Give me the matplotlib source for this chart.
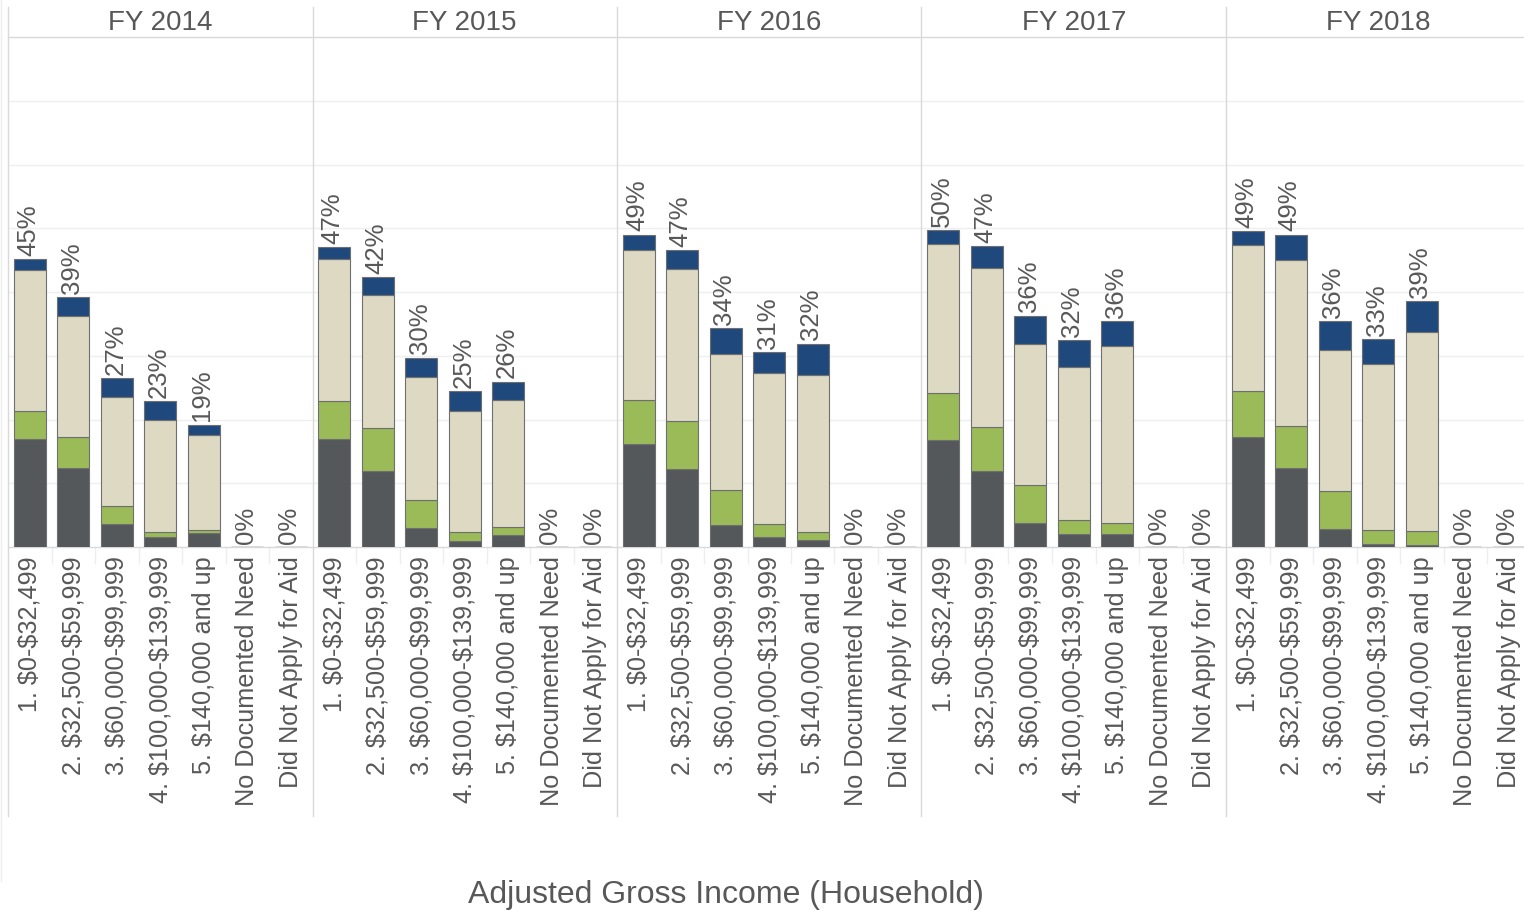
import numpy as np
import matplotlib
matplotlib.use("Agg")
import matplotlib.pyplot as plt
from matplotlib.lines import Line2D

plt.rcParams['font.family'] = ['Liberation Sans', 'DejaVu Sans']
plt.rcParams['text.parse_math'] = False  # keep the "$" signs literal

# -----------------------
# Data (percent of students)
# -----------------------
years = ['FY 2014', 'FY 2015', 'FY 2016', 'FY 2017', 'FY 2018']
categories = ['1. $0-$32,499', '2. $32,500-$59,999', '3. $60,000-$99,999',
              '4. $100,000-$139,999', '5. $140,000 and up',
              'No Documented Need', 'Did Not Apply for Aid']

# one row per fiscal year, one value per income category (bottom -> top)
dark_part = [[17.0, 12.4, 3.6, 1.5, 2.2, 0, 0],
             [17.0, 12.0, 3.0, 1.0, 1.9, 0, 0],
             [16.2, 12.3, 3.5, 1.6, 1.15, 0, 0],
             [16.8, 12.0, 3.8, 2.0, 2.1, 0, 0],
             [17.3, 12.4, 2.9, 0.5, 0.3, 0, 0]]
green_part = [[4.4, 4.9, 2.8, 0.8, 0.4, 0, 0],
              [5.9, 6.6, 4.4, 1.3, 1.25, 0, 0],
              [6.9, 7.5, 5.5, 2.0, 1.25, 0, 0],
              [7.4, 6.85, 6.0, 2.3, 1.6, 0, 0],
              [7.2, 6.6, 5.9, 2.1, 2.25, 0, 0]]
beige_part = [[22.0, 18.9, 17.1, 17.7, 15.0, 0, 0],
              [22.2, 21.0, 19.3, 19.0, 19.9, 0, 0],
              [23.5, 23.8, 21.2, 23.7, 24.6, 0, 0],
              [23.4, 24.9, 22.1, 23.9, 27.9, 0, 0],
              [22.9, 26.0, 22.1, 26.1, 31.1, 0, 0]]
navy_part = [[1.8, 3.0, 3.0, 2.9, 1.6, 0, 0],
             [1.9, 2.7, 3.0, 3.2, 2.9, 0, 0],
             [2.4, 3.0, 4.1, 3.3, 4.9, 0, 0],
             [2.1, 3.45, 4.4, 4.2, 3.8, 0, 0],
             [2.1, 4.0, 4.6, 3.9, 4.9, 0, 0]]
total_labels = [[45, 39, 27, 23, 19, 0, 0],
                [47, 42, 30, 25, 26, 0, 0],
                [49, 47, 34, 31, 32, 0, 0],
                [50, 47, 36, 32, 36, 0, 0],
                [49, 49, 36, 33, 39, 0, 0]]

colors = ['#54585a', '#9bbb59', '#ddd9c3', '#1f497d']
text_col = '#585858'
line_col = '#d9d9d9'

# -----------------------
# Layout (pixel based, 1524 x 912)
# -----------------------
W, H = 1524, 912
fig = plt.figure(figsize=(W / 100, H / 100), dpi=100)

def fx(px):
    return px / W

def fy(py):
    return 1 - py / H

panel_left = 8
panel_w = 304.5
plot_top, plot_bot = 38, 548

x = np.arange(len(categories))
for i, year in enumerate(years):
    left = panel_left + i * panel_w
    ax = fig.add_axes([fx(left), fy(plot_bot), panel_w / W, (plot_bot - plot_top) / H])
    bottom = np.zeros(len(categories))
    for part, col in zip([dark_part, green_part, beige_part, navy_part], colors):
        vals = np.array(part[i])
        ax.bar(x, vals, bottom=bottom, width=0.74, color=col,
               edgecolor='#6f6f6f', linewidth=0.8, zorder=3)
        bottom = bottom + vals
    for xi, top, lab in zip(x, bottom, total_labels[i]):
        ax.annotate(f'{lab}%', (xi, top), xytext=(-1, 3), textcoords='offset points',
                    rotation=90, ha='center', va='bottom', fontsize=18.5, color=text_col)

    ax.set_xlim(-0.5, len(categories) - 0.5)
    ax.set_ylim(0, 80)
    ax.set_yticks(np.arange(10, 80, 10))
    ax.yaxis.grid(True, color='#efefef', linewidth=1, zorder=0)
    ax.tick_params(axis='y', length=0, labelleft=False)
    ax.set_xticks(x)
    ax.set_xticklabels(categories, rotation=90, fontsize=18.2, color=text_col)
    ax.tick_params(axis='x', length=0, pad=6)
    ax.set_xticks(np.arange(0.5, len(categories) - 1, 1), minor=True)
    ax.tick_params(axis='x', which='minor', length=12, color='#eeeeee', width=1)
    for s in ['left', 'right', 'top']:
        ax.spines[s].set_visible(False)
    ax.spines['bottom'].set_color(line_col)
    ax.spines['bottom'].set_linewidth(1)

    fig.text(fx(left + panel_w / 2), fy(23), year, ha='center', va='center',
             fontsize=20, color=text_col)

# panel dividers and header line
for i in range(len(years) + 1):
    xp = panel_left + i * panel_w
    fig.add_artist(Line2D([fx(xp), fx(xp)], [fy(8), fy(817)], color=line_col, linewidth=1))
fig.add_artist(Line2D([fx(panel_left), 1], [fy(plot_top), fy(plot_top)], color=line_col, linewidth=1))
fig.add_artist(Line2D([fx(1), fx(1)], [fy(0), fy(882)], color='#eeeeee', linewidth=1))

fig.text(fx(726), fy(895), 'Adjusted Gross Income (Household)', ha='center', va='center',
         fontsize=23, color=text_col)

fig.savefig('out.png', dpi=100)
